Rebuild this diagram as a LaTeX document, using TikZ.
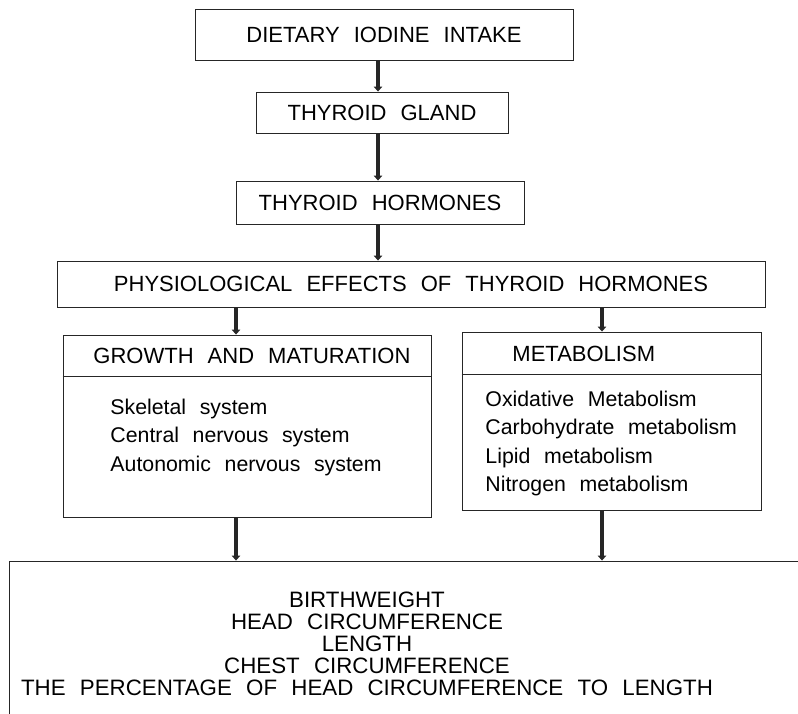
\documentclass[tikz,border=0pt]{standalone}
\usepackage{fontspec}
\setmainfont[WordSpace=2.3]{Liberation Sans}
\usetikzlibrary{arrows.meta, positioning}

\begin{document}
\begin{tikzpicture}[
    x=1pt, y=-1pt, line width=0.9pt, draw=black!85,
    box/.style={rectangle, draw, inner sep=0pt, font=\fontsize{22}{22}\selectfont},
    head/.style={inner sep=0pt, anchor=west, font=\fontsize{22}{22}\selectfont},
    items/.style={inner sep=0pt, anchor=west, align=left, font=\fontsize{21.3}{28.5}\selectfont},
    arr/.style={-{Triangle[length=5pt,width=8.5pt]}, line width=3.6pt, draw=black!85}]

    \useasboundingbox (0,0) rectangle (798,713);
    \clip (0,0) rectangle (798,713);

    % Define boxes
    \node[box, minimum width=378pt, minimum height=51pt] (D) at (384,34.5) {DIETARY IODINE INTAKE};
    \node[box, minimum width=252pt, minimum height=41pt] (TG) at (382,112.5) {THYROID GLAND};
    \node[box, minimum width=288pt, minimum height=43pt] (TH) at (380,202.5) {THYROID HORMONES};
    \node[box, minimum width=708pt, minimum height=46pt] (PE) at (411,284) {PHYSIOLOGICAL EFFECTS OF THYROID HORMONES};

    \node[box, minimum width=368pt, minimum height=182pt] (GM) at (247,426) {};
    \draw ([yshift=-42pt]GM.north west) -- ([yshift=-42pt]GM.north east);
    \node[head] (GMh) at (93,356) {GROWTH AND MATURATION};
    \node[items] (GMl) at (110,437) {Skeletal system\\Central nervous system\\Autonomic nervous system};

    \node[box, minimum width=299pt, minimum height=178pt] (MB) at (611.5,421) {};
    \draw ([yshift=-43pt]MB.north west) -- ([yshift=-43pt]MB.north east);
    \node[head] (MBh) at (512,354) {METABOLISM};
    \node[items] (MBl) at (485,443.5) {Oxidative Metabolism\\Carbohydrate metabolism\\Lipid metabolism\\Nitrogen metabolism};

    \node[box, minimum width=821pt, minimum height=200pt] (OUT) at (419.5,661) {};
    \node[inner sep=0pt, align=center, font=\fontsize{22.3}{22}\selectfont] (OUTt) at (367,644)
        {BIRTHWEIGHT\\HEAD CIRCUMFERENCE\\LENGTH\\CHEST CIRCUMFERENCE\\THE PERCENTAGE OF HEAD CIRCUMFERENCE TO LENGTH};

    % Draw arrows
    \coordinate (cx) at (378,0);
    \coordinate (gx) at (236,0);
    \coordinate (mx) at (602,0);
    \draw[arr] (cx |- D.south) -- (cx |- TG.north);
    \draw[arr] (cx |- TG.south) -- (cx |- TH.north);
    \draw[arr] (cx |- TH.south) -- (cx |- PE.north);
    \draw[arr] (gx |- PE.south) -- (gx |- GM.north);
    \draw[arr] (mx |- PE.south) -- (mx |- MB.north);
    \draw[arr] (gx |- GM.south) -- (gx |- OUT.north);
    \draw[arr] (mx |- MB.south) -- (mx |- OUT.north);

\end{tikzpicture}
\end{document}
